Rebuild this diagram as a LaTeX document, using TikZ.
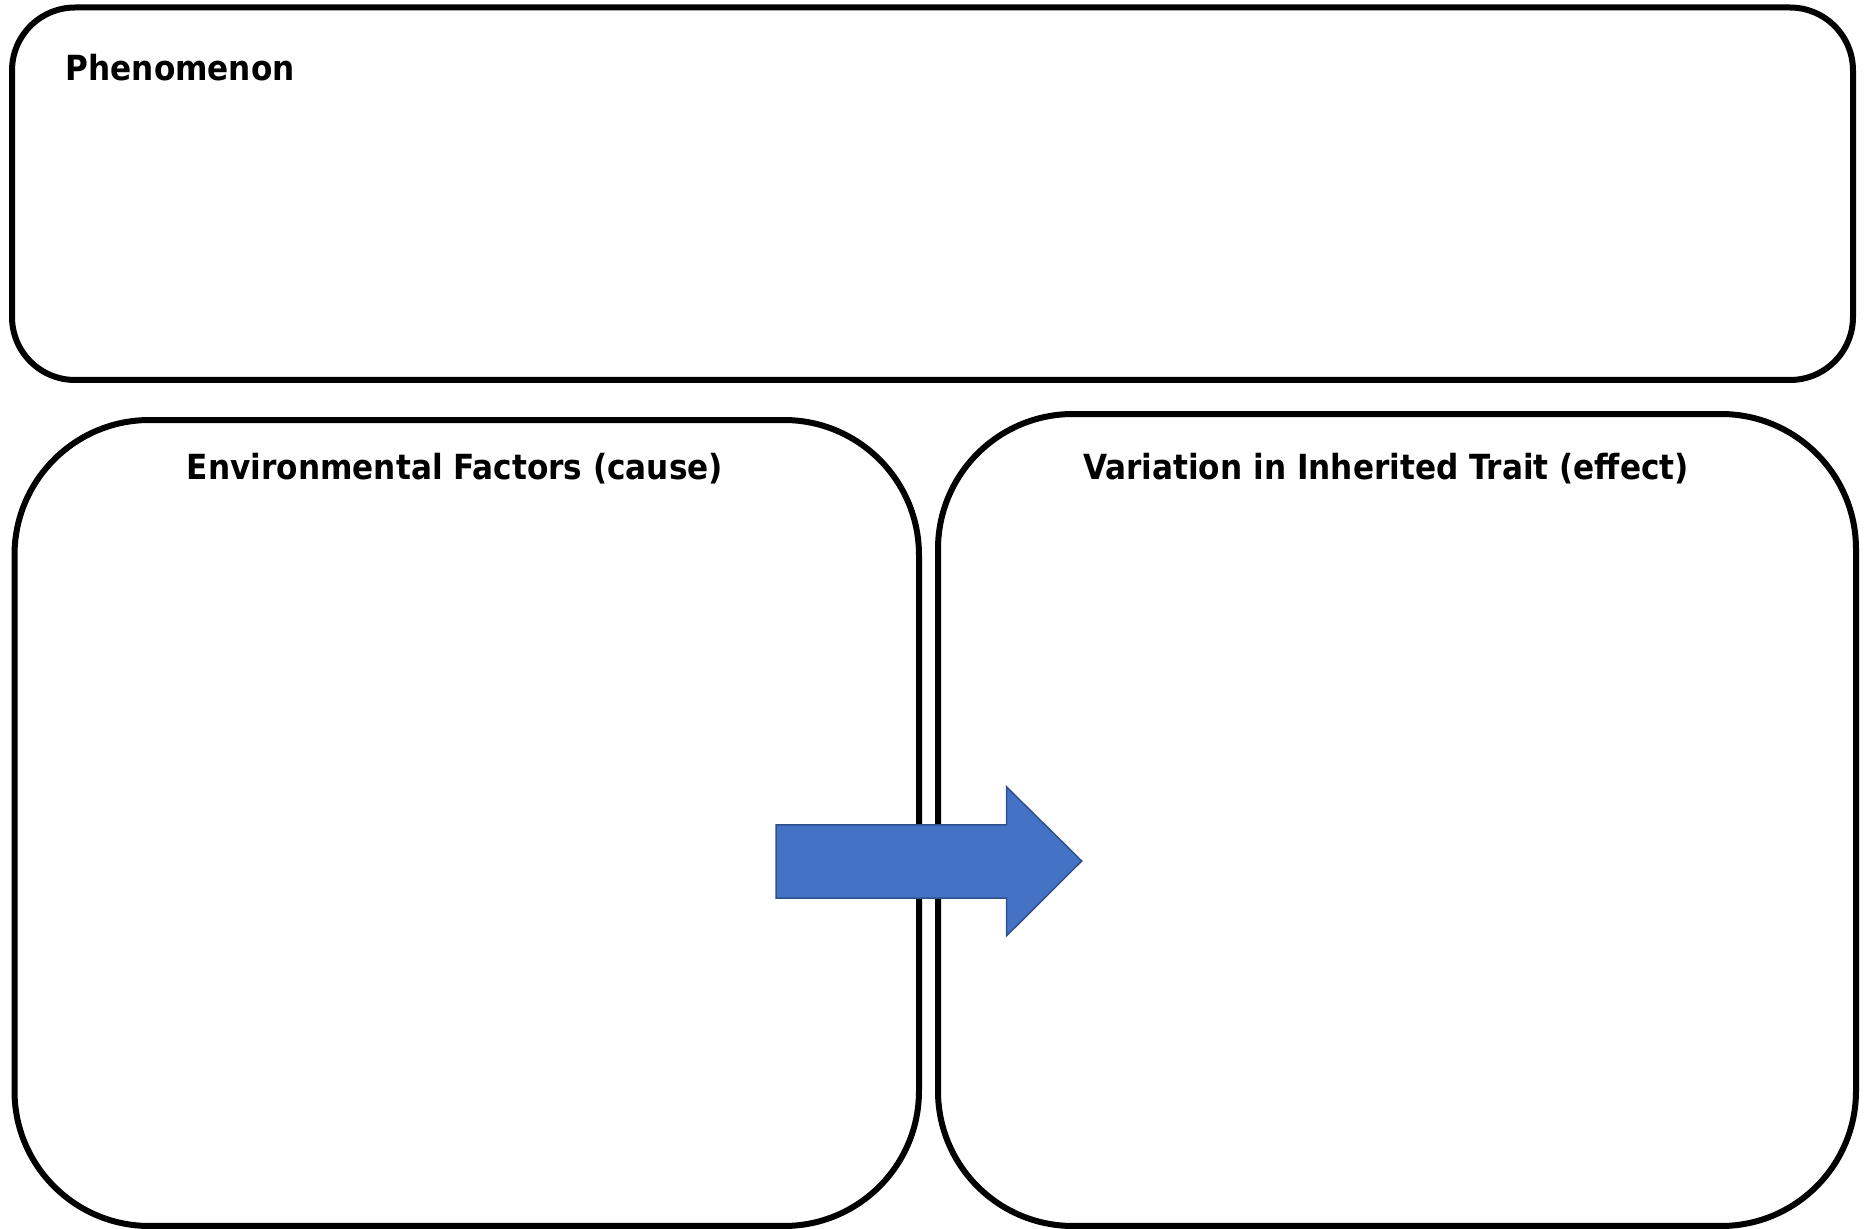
\documentclass[tikz,border=0pt]{standalone}
\usepackage{fontspec}
\setmainfont{DejaVu Sans Condensed}
\usetikzlibrary{positioning}
\definecolor{arrowblue}{HTML}{4472C4}
\definecolor{arrowedge}{HTML}{2F528F}
\tikzset{panel/.style={draw, line width=0.6mm, rectangle}}
\tikzset{title/.style={font=\bfseries\fontsize{9.85}{12}\selectfont, inner sep=0pt}}

\begin{document}
\begin{tikzpicture}[x=0.1mm, y=-0.1mm]
		\useasboundingbox (0,0) rectangle (1868,1229);

		\node[panel, rounded corners=6.3mm, minimum width=184.1mm, minimum height=37.25mm] (top) at (932.5, 193.75) {};
		\node[panel, rounded corners=13.5mm, minimum width=90.45mm, minimum height=80.6mm] (left) at (466.75, 823) {};
		\node[panel, rounded corners=13.5mm, minimum width=91.8mm, minimum height=81.2mm] (right) at (1397, 820) {};

		\begin{scope}[every node/.append style={title}]
			\node[anchor=base west] (phen) at (65, 81) {Phenomenon};
			\node[anchor=base] (cause) at (455, 480) {Environmental Factors (cause)};
			\node[anchor=base] (effect) at (1386, 480) {Variation in Inherited Trait (effect)};
		\end{scope}

		\draw[fill=arrowblue, draw=arrowedge, line width=0.15mm, line join=miter]
			(776, 825) -- (1006.7, 825) -- (1006.7, 787) -- (1081.7, 861) -- (1006.7, 935.7) -- (1006.7, 898) -- (776, 898) -- cycle;
	\end{tikzpicture}
\end{document}
